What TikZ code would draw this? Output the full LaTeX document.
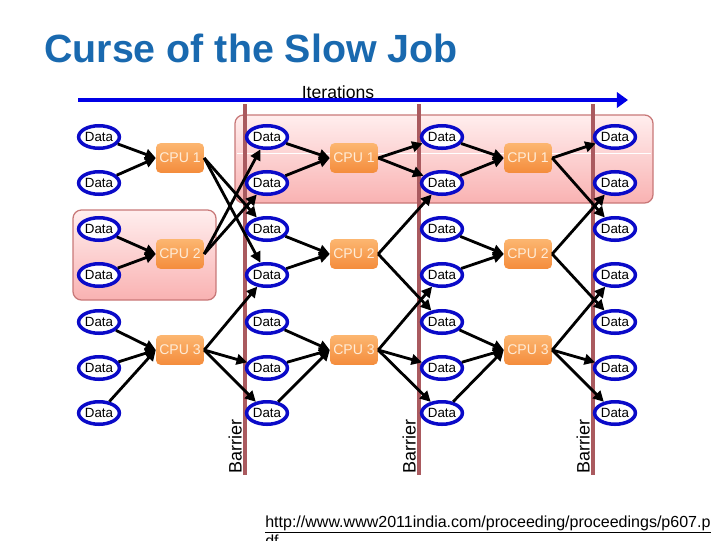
\documentclass[tikz,border=0pt]{standalone}
\usepackage{fontspec}
\setmainfont{Liberation Sans}
\usepackage{xcolor}
\usetikzlibrary{arrows.meta,shapes.geometric}
\definecolor{tieude}{RGB}{25,105,175}
\definecolor{xanhdata}{RGB}{10,10,200}
\definecolor{xanhmui}{RGB}{0,0,230}
\definecolor{cpunhat}{RGB}{252,182,112}
\definecolor{cpudam}{RGB}{244,140,60}
\definecolor{chucpu}{RGB}{255,236,215}
\definecolor{vienhong}{RGB}{200,120,120}
\definecolor{hongnhat}{RGB}{255,238,238}
\definecolor{hongdam}{RGB}{249,178,178}
\definecolor{maurao}{RGB}{170,90,95}

\begin{document}
\begin{tikzpicture}[x=0.025cm,y=-0.025cm,
    data/.style={ellipse,draw=xanhdata,line width=2.5pt,fill=white,inner sep=0pt,
      minimum width=29pt,minimum height=16pt,font=\fontsize{9.5}{10}\selectfont},
    cpu/.style={rounded corners=3pt,top color=cpunhat,bottom color=cpudam,
      minimum width=34pt,minimum height=21pt,inner sep=0pt,text=chucpu,
      font=\fontsize{10}{11}\selectfont},
    mui/.style={-{Triangle[length=7.5pt,width=7.5pt]},line width=2pt},
    khung/.style={draw=vienhong,line width=0.9pt,rounded corners=6pt,
      top color=hongnhat,bottom color=hongdam},
    rao/.style={draw=maurao,line width=2.2pt}]
			\useasboundingbox (0,0) rectangle (720,540);
			% Vẽ khung hồng
			\draw[khung] (235,115) rectangle (653,203);
			\draw[white,line width=0.6pt] (237,153) -- (651,153);
			\draw[khung] (73,210) rectangle (216,300);
			% Tiêu đề và mũi tên vòng lặp
			\node[anchor=base west,inner sep=0pt,text=tieude,font=\bfseries\fontsize{28}{32}\selectfont] (tieu) at (44,62) {Curse of the Slow Job};
			\coordinate (dau) at (78,100);
			\coordinate (cuoi) at (628,100);
			\draw[xanhmui,line width=3.5pt,-{Triangle[length=8pt,width=11pt]}] (dau) -- (cuoi);
			\node[anchor=base,font=\fontsize{12.5}{14}\selectfont,inner sep=1pt] (lap) at (338,98) {Iterations};
			% Vẽ rào chắn
			\foreach \x [count=\i] in {245,419,593}{
				\coordinate (rt\i) at (\x,104);
				\coordinate (rb\i) at (\x,475);
				\draw[rao] (rt\i) -- (rb\i);
				\node[rotate=90,anchor=south west,inner sep=1pt,font=\fontsize{12.8}{14}\selectfont] (nhan\i) at ([xshift=-1pt]rb\i) {Barrier};
			}
			% Vẽ dữ liệu
			\foreach \c/\x in {1/99,2/267,3/442,4/615}
			\foreach \r/\y in {1/137,2/183,3/229,4/275,5/322,6/368,7/413}
			\node[data] (d\c\r) at (\x,\y) {Data};
			% Vẽ CPU
			\foreach \c/\x in {1/180,2/354,3/528}
			\foreach \r/\y in {1/158,2/254,3/350}
			\node[cpu] (c\c\r) at (\x,\y) {CPU \r};
			% Nối dữ liệu vào CPU
			\foreach \c in {1,2,3}
			\foreach \r/\k in {1/1,2/1,3/2,4/2,5/3,6/3,7/3}
			\draw[mui] (d\c\r) -- (c\c\k.west);
			% Nối CPU sang cột sau
			\foreach \a/\b in {11/23,11/24,12/21,12/22,13/24,13/26,13/27,
				21/31,21/32,22/32,22/35,23/34,23/36,23/37,
				31/41,31/43,32/42,32/45,33/44,33/46,33/47}
			\draw[mui] (c\a.east) -- (d\b);
			% Nguồn
			\node[anchor=base west,font=\fontsize{11.4}{13}\selectfont,inner sep=0pt] (nguon) at (265,527) {\underline{http://www.www2011india.com/proceeding/proceedings/p607.p}};
			\node[anchor=base west,font=\fontsize{11.4}{13}\selectfont,inner sep=0pt] (nguon2) at (265,546) {\underline{df}};
		\end{tikzpicture}
\end{document}
